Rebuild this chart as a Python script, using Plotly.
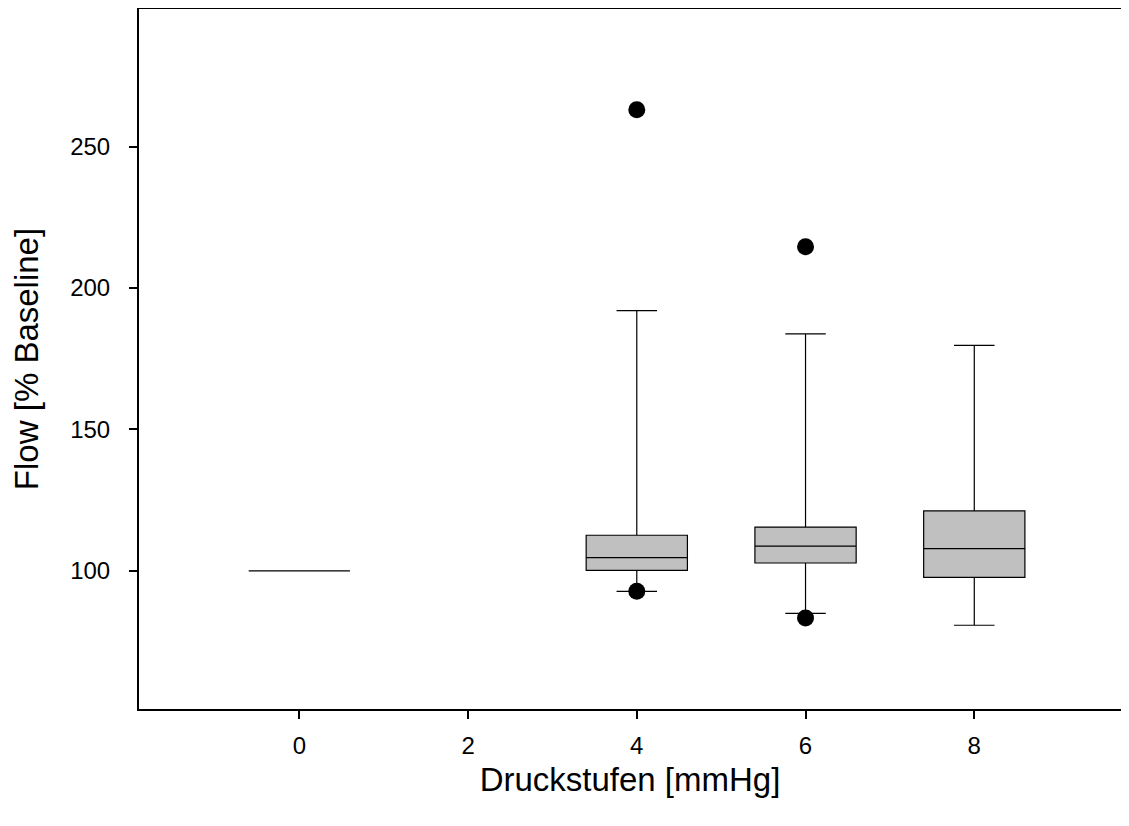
import plotly.graph_objects as go

# Data
pressure = [0, 4, 6, 8]
q1 = [100.0, 100.2, 102.8, 97.7]
median = [100.0, 104.7, 108.8, 107.9]
q3 = [100.0, 112.6, 115.5, 121.2]
lower_whisker = [100.0, 92.8, 85.0, 80.8]
upper_whisker = [100.0, 192.0, 183.8, 179.7]

outlier_x = [4, 4, 6, 6]
outlier_y = [263.0, 92.8, 214.6, 83.4]

x_ticks = [0, 2, 4, 6, 8]
y_ticks = [100, 150, 200, 250]

font_family = "Liberation Sans, Arial, sans-serif"

fig = go.Figure()
fig.add_trace(go.Box(
    x=pressure,
    q1=q1, median=median, q3=q3,
    lowerfence=lower_whisker, upperfence=upper_whisker,
    width=1.2, whiskerwidth=0.4,
    fillcolor="#c0c0c0",
    line=dict(color="black", width=1.2),
    boxpoints=False,
    showlegend=False,
    hoverinfo="skip",
))
fig.add_trace(go.Scatter(
    x=outlier_x, y=outlier_y, mode="markers",
    marker=dict(color="black", size=17),
    showlegend=False,
))

fig.update_layout(
    width=1113, height=810,
    margin=dict(l=131, r=0, t=1, b=109),
    paper_bgcolor="white", plot_bgcolor="white",
    font=dict(family=font_family, color="black"),
    xaxis=dict(
        range=[-1.9, 9.739],
        tickvals=x_ticks, ticktext=[str(v) for v in x_ticks],
        ticks="outside", ticklen=8, tickwidth=1.5, tickcolor="black",
        showline=True, linecolor="black", linewidth=2, mirror=True,
        showgrid=False, zeroline=False,
        tickfont=dict(size=24, family=font_family),
        ticklabelstandoff=6,
        title=dict(text="Druckstufen [mmHg]", font=dict(size=33, family=font_family), standoff=10),
    ),
    yaxis=dict(
        range=[51.2, 298.6],
        tickvals=y_ticks, ticktext=[str(v) for v in y_ticks],
        ticks="outside", ticklen=8, tickwidth=1.5, tickcolor="black",
        showline=True, linecolor="black", linewidth=2, mirror=False,
        showgrid=False, zeroline=False,
        tickfont=dict(size=24, family=font_family),
        ticklabelstandoff=14,
        title=dict(text="Flow [% Baseline]", font=dict(size=33, family=font_family), standoff=22),
    ),
)

fig.write_html("out.html")
